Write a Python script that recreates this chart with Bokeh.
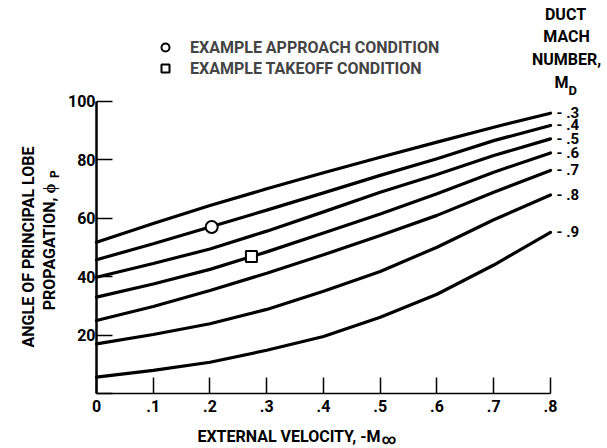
from bokeh.plotting import figure
from bokeh.models import Label, Legend, LegendItem, FixedTicker, Range1d, LinearAxis
from bokeh.core.properties import value
from bokeh.embed import file_html
from bokeh.resources import INLINE
import math

# ---------------- data ----------------
ext_velocity = [0.0, 0.1, 0.2, 0.3, 0.4, 0.5, 0.6, 0.7, 0.8]
duct_mach = [".3", ".4", ".5", ".6", ".7", ".8", ".9"]
phi_m03 = [51.8, 58.2, 64.4, 70.1, 75.6, 80.9, 86.1, 91.2, 96.0]
phi_m04 = [45.8, 51.3, 57.0, 62.8, 68.7, 74.7, 80.4, 86.6, 91.8]
phi_m05 = [39.8, 44.5, 49.5, 55.6, 62.2, 68.9, 75.0, 81.5, 87.2]
phi_m06 = [33.0, 37.5, 42.5, 48.5, 55.0, 61.5, 68.4, 75.8, 82.4]
phi_m07 = [25.0, 29.8, 35.3, 41.2, 47.5, 54.1, 61.0, 68.9, 76.4]
phi_m08 = [17.0, 20.2, 23.9, 28.8, 35.0, 41.8, 50.1, 59.5, 68.0]
phi_m09 = [5.6, 7.9, 10.7, 14.8, 19.5, 26.1, 34.0, 44.0, 55.2]
series = [phi_m03, phi_m04, phi_m05, phi_m06, phi_m07, phi_m08, phi_m09]

approach_x = [0.203]
approach_y = [57.0]
takeoff_x = [0.273]
takeoff_y = [46.9]

x_ticks = [0, 0.1, 0.2, 0.3, 0.4, 0.5, 0.6, 0.7, 0.8]
x_tick_labels = ["0", ".1", ".2", ".3", ".4", ".5", ".6", ".7", ".8"]
y_ticks = [0, 20, 40, 60, 80, 100]
y_tick_labels = ["", "20", "40", "60", "80", "100"]

FONT = "Roboto"

# frame covers the whole canvas; axes are drawn at fixed data locations
p = figure(width=607, height=448, min_border=0,
           x_range=Range1d(-0.16916, 0.90044), y_range=Range1d(-18.836, 134.589),
           x_axis_location=None, y_axis_location=None,
           output_backend="svg", toolbar_location=None)
p.outline_line_color = None
p.grid.visible = False
p.background_fill_color = "white"
p.border_fill_color = "white"

xaxis = LinearAxis(fixed_location=0, ticker=FixedTicker(ticks=x_ticks),
                   major_label_overrides=dict(zip(x_ticks, x_tick_labels)),
                   bounds=(0, 0.8), axis_line_width=1.5, major_label_standoff=7)
yaxis = LinearAxis(fixed_location=0, ticker=FixedTicker(ticks=y_ticks),
                   major_label_overrides=dict(zip(y_ticks, y_tick_labels)),
                   bounds=(0, 100), axis_line_width=2.5, major_label_standoff=1)
for ax in (xaxis, yaxis):
    ax.major_tick_in = 16
    ax.major_tick_out = 0
    ax.minor_tick_line_color = None
    ax.axis_line_color = "black"
    ax.major_tick_line_color = "black"
    ax.major_tick_line_width = 1.5
    ax.major_label_text_font = FONT
    ax.major_label_text_font_style = "bold"
    ax.major_label_text_font_size = "16px"
    ax.major_label_text_color = "black"
p.add_layout(xaxis, "below")
p.add_layout(yaxis, "left")

for s in series:
    p.line(ext_velocity, s, line_width=3.2, line_color="black", line_cap="round")

p.text(x=[ext_velocity[-1]] * len(series), y=[s[-1] for s in series],
       text=["- " + m for m in duct_mach], x_offset=6,
       text_baseline="middle", text_align="left",
       text_font=value(FONT), text_font_style="bold", text_font_size="15px", text_color="black")

r1 = p.scatter(approach_x, approach_y, marker="circle", size=12,
               fill_color="white", line_color="black", line_width=2)
r2 = p.scatter(takeoff_x, takeoff_y, marker="square", size=11,
               fill_color="white", line_color="black", line_width=2)

legend = Legend(items=[LegendItem(label="EXAMPLE APPROACH CONDITION", renderers=[r1]),
                       LegendItem(label="EXAMPLE TAKEOFF CONDITION", renderers=[r2])],
                location=(155, 370), orientation="vertical")
legend.border_line_color = None
legend.background_fill_alpha = 0
legend.padding = 0
legend.margin = 0
legend.spacing = 1
legend.glyph_width = 20
legend.glyph_height = 20
legend.label_height = 20
legend.label_standoff = 15
legend.label_text_font = FONT
legend.label_text_font_style = "bold"
legend.label_text_font_size = "16px"
legend.label_text_baseline = "middle"
p.add_layout(legend)

def lab(text, x, y, size="16px", angle=0, align="center", baseline="middle"):
    p.add_layout(Label(x=x, y=y, x_units="screen", y_units="screen", text=text,
                       angle=angle, text_align=align, text_baseline=baseline,
                       text_font=FONT, text_font_style="bold", text_font_size=size,
                       text_color="black"))

# header at right
lab("DUCT", 565, 434)
lab("MACH", 566, 412)
lab("NUMBER,", 566, 389)
lab("M", 568, 366, align="right")
lab("D", 568, 358, size="13px", align="left")

# x axis title
lab("EXTERNAL VELOCITY, -M", 380, 12, align="right")
lab("\u221e", 381, 10, size="14px", align="left")

# y axis title
lab("ANGLE OF PRINCIPAL LOBE", 27.5, 201.5, angle=math.pi / 2)
lab("PROPAGATION, \u03d5", 49, 265, angle=math.pi / 2, align="right")
lab("P", 54, 270.5, size="12px", angle=math.pi / 2, align="left")

open("out.html", "w").write(file_html(p, INLINE))
